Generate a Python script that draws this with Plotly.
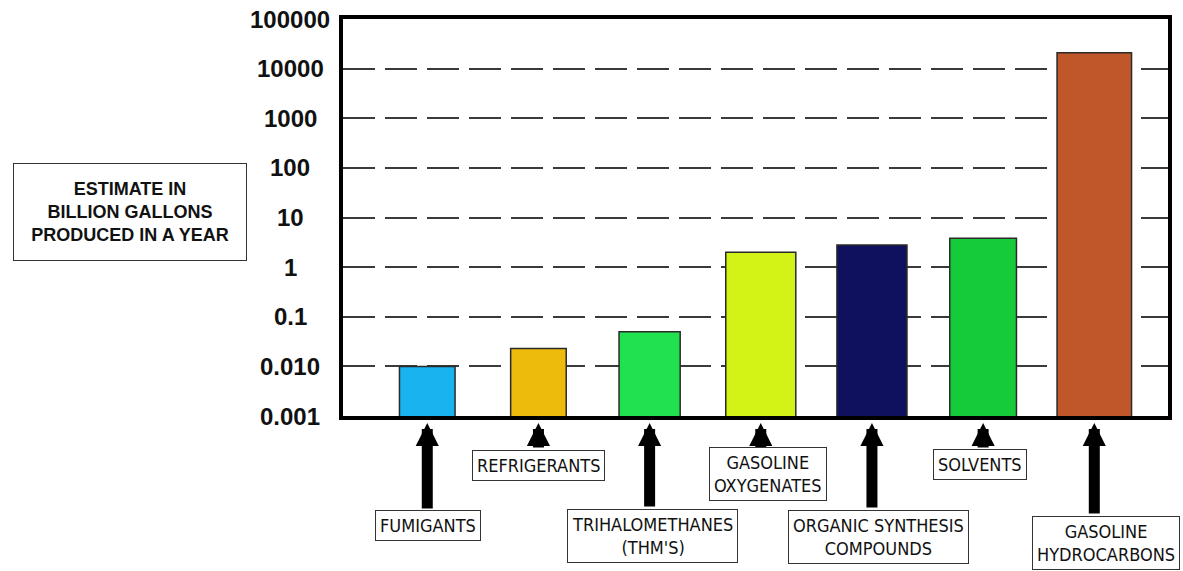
import numpy as np
import plotly.graph_objects as go

# ---------------- data ----------------
categories = ["Fumigants", "Refrigerants", "Trihalomethanes (THM's)",
              "Gasoline oxygenates", "Organic synthesis compounds",
              "Solvents", "Gasoline hydrocarbons"]
values = [0.01, 0.023, 0.05, 2.0, 2.8, 3.8, 21000]
label_texts = ["FUMIGANTS", "REFRIGERANTS", "TRIHALOMETHANES<br>(THM'S)",
               "GASOLINE<br>OXYGENATES", "ORGANIC SYNTHESIS<br>COMPOUNDS",
               "SOLVENTS", "GASOLINE<br>HYDROCARBONS"]
tick_values = [0.001, 0.01, 0.1, 1, 10, 100, 1000, 10000, 100000]
tick_labels = ["0.001", "0.010", "0.1", "1", "10", "100", "1000", "10000", "100000"]
y_title = "ESTIMATE IN<br>BILLION GALLONS<br>PRODUCED IN A YEAR"

# ---------------- styles ----------------
bar_colors = ["#19b3ef", "#ecbb0c", "#22e14f", "#d3f316", "#0f115e", "#15cb39", "#c0572a"]
bar_widths = [0.50, 0.50, 0.55, 0.63, 0.63, 0.60, 0.67]
arrow_lengths = [87, 26, 85, 26, 86, 26, 92]     # px, arrow tip to box top
box_yshift = [102, 42, 113, 51, 114, 41, 120]    # px, arrow tip to box centre
box_xshift = [1, 0, 3, 7, 7, -3, 12]             # px, box centre vs arrow

W, H = 1183, 571
L, R, T, B = 343, 11, 19, 155
plot_w = W - L - R
plot_h = H - T - B

fig = go.Figure()
fig.add_trace(go.Bar(
    x=categories, y=values,
    marker=dict(color=bar_colors, line=dict(color="#2a2a2a", width=1.5)),
    width=bar_widths, hoverinfo="x+y",
))

grid_vals = [v for v in tick_values if 0.001 < v < 100000]

fig.update_layout(
    width=W, height=H,
    margin=dict(l=L, r=R, t=T, b=B),
    paper_bgcolor="white", plot_bgcolor="white",
    showlegend=False,
    xaxis=dict(type="category", range=[-0.758, 6.663], showticklabels=False,
               showgrid=False, zeroline=False, ticks="",
               showline=True, mirror=True, linecolor="black", linewidth=4),
    yaxis=dict(type="log", range=[-3, 5], tickvals=grid_vals, showticklabels=False,
               showgrid=True, gridcolor="#3a3a3a", gridwidth=1.5, griddash="32px,10px",
               zeroline=False, ticks="",
               showline=True, mirror=True, linecolor="black", linewidth=4),
)

annotations = []
# centred tick labels
label_x = (290 - L) / plot_w
for v, t in zip(tick_values, tick_labels):
    annotations.append(dict(
        x=label_x, xref="paper", y=np.log10(v), yref="y",
        text=t, showarrow=False, xanchor="center", yanchor="middle",
        font=dict(family="Liberation Sans, Arial, sans-serif", size=24,
                  color="#111", weight="bold"),
    ))

# y title box
annotations.append(dict(
    x=(129 - L) / plot_w, xref="paper", y=(416 - 212) / plot_h, yref="paper",
    text=y_title, showarrow=False, xanchor="center", yanchor="middle",
    align="center", width=226, height=90, borderpad=3,
    bordercolor="#333", borderwidth=1, bgcolor="white",
    font=dict(family="Liberation Sans, Arial, sans-serif", size=18,
              color="#111", weight="bold"),
))

# arrows and labelled boxes
tip_y = -7 / plot_h
label_font = dict(family="Liberation Sans Narrow, DejaVu Sans Condensed, Arial Narrow, sans-serif",
                  size=18, color="#111")
for c, t, alen, ys, xs in zip(categories, label_texts, arrow_lengths, box_yshift, box_xshift):
    annotations.append(dict(
        x=c, xref="x", y=tip_y, yref="paper",
        text="", showarrow=True, ax=0, ay=alen, axref="pixel", ayref="pixel",
        arrowhead=2, arrowsize=0.42, arrowwidth=11, arrowcolor="black",
    ))
    annotations.append(dict(
        x=c, xref="x", y=tip_y, yref="paper",
        text=t, showarrow=False, xanchor="center", yanchor="middle",
        xshift=xs, yshift=-ys,
        bordercolor="#333", borderwidth=1, borderpad=4, bgcolor="white",
        align="center", font=label_font,
    ))

fig.update_layout(annotations=annotations)
fig.write_html("out.html", config={"displayModeBar": False},
               post_script="document.body.style.margin='0';")
